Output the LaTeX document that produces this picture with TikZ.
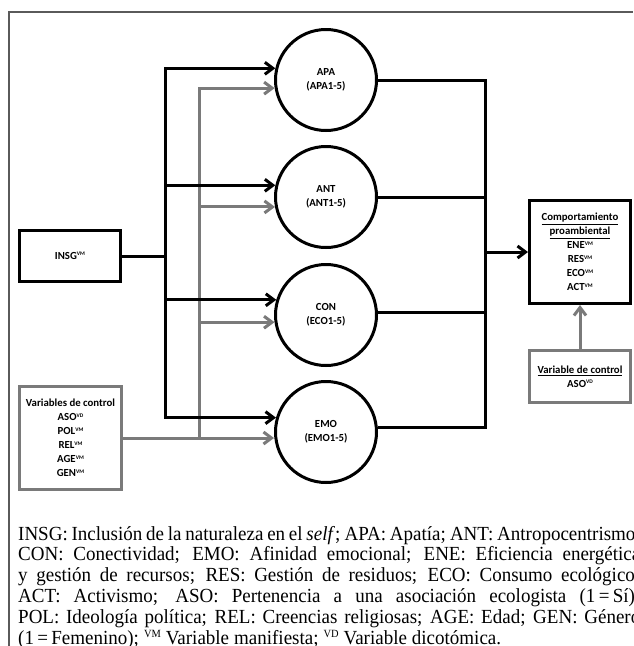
\documentclass[tikz,border=0pt]{standalone}
\usepackage{fontspec}
\setmainfont{Liberation Serif}
\newfontfamily\capfont[FakeStretch=0.95]{Liberation Serif}
\newfontfamily\dfont{Carlito}
\usetikzlibrary{arrows.meta}
\definecolor{gryc}{HTML}{7A7A7A}
\definecolor{framec}{HTML}{5A5A5A}
\newcommand{\vsup}[1]{\raisebox{3.6pt}{\fontsize{5.5}{6}\selectfont #1}}
\newcommand{\csup}[1]{\raisebox{6.5pt}{\fontsize{11}{11}\selectfont #1}}
\newcommand{\capline}[1]{\makebox[622pt][s]{#1}}
\begin{document}
\begin{tikzpicture}[x=1pt,y=-1pt,
  lbl/.style={font=\dfont\bfseries\fontsize{10.8}{14}\selectfont, align=center},
  blk/.style={line width=3pt, draw=black},
  gryl/.style={line width=3pt, draw=gryc},
  tip/.style={-{Straight Barb[length=8pt,width=12pt]}},
  circ/.style={circle, draw, line width=3pt, minimum size=101pt, inner sep=0pt, lbl},
  bx/.style={rectangle, draw, line width=3pt, inner sep=0pt, lbl},
  gbx/.style={rectangle, draw=gryc, line width=3pt, inner sep=0pt, lbl}
]
\useasboundingbox (0,0) rectangle (633,646);
\fill[white] (0,0) rectangle (633,646);
% frame
\draw[line width=1.3pt, draw=framec] (9,646) -- (9,12) -- (633,12);

% nodes
\node[circ] (APA) at (326,80) {APA\\(APA1-5)};
\node[circ] (ANT) at (326,197) {ANT\\(ANT1-5)};
\node[circ] (CON) at (326,315) {CON\\(ECO1-5)};
\node[circ] (EMO) at (326,432) {EMO\\(EMO1-5)};

\node[bx, minimum width=101pt, minimum height=51pt] (INSG) at (70,256) {INSG\vsup{VM}};
\node[gbx, minimum width=102pt, minimum height=103pt] (CTRL) at (70.5,438)
  {Variables de control\\ASO\vsup{VD}\\POL\vsup{VM}\\REL\vsup{VM}\\AGE\vsup{VM}\\GEN\vsup{VM}};
\node[bx, minimum width=101pt, minimum height=103pt] (OUT) at (580,252)
  {\underline{Comportamiento}\\\underline{proambiental}\\ENE\vsup{VM}\\RES\vsup{VM}\\ECO\vsup{VM}\\ACT\vsup{VM}};
\node[gbx, minimum width=101pt, minimum height=52pt] (CTRL2) at (580,376.5)
  {\underline{Variable de control}\\ASO\vsup{VD}};

\coordinate (tb) at (165,0);
\coordinate (tg) at (199,0);
\coordinate (tr) at (485,0);

% gray connectors (drawn first)
\draw[gryl, {Straight Barb[length=8pt,width=12pt]}-] (APA.189) -- (APA.189 -| tg) -- (CTRL.east -| tg);
\draw[gryl, tip] (ANT.191 -| tg) -- (ANT.191);
\draw[gryl, tip] (CON.188 -| tg) -- (CON.188);
\draw[gryl, tip] (CTRL.east) -- (CTRL.east -| EMO.west);
\draw[gryl, tip] (CTRL2.north) -- (OUT.south);

% black connectors
\draw[blk, {Straight Barb[length=8pt,width=12pt]}-{Straight Barb[length=8pt,width=12pt]}]
  (APA.167) -- (APA.167 -| tb) -- (EMO.164 -| tb) -- (EMO.164);
\draw[blk, tip] (ANT.167 -| tb) -- (ANT.167);
\draw[blk, tip] (CON.163 -| tb) -- (CON.163);
\draw[blk] (INSG.east) -- (INSG.east -| tb);

\draw[blk] (APA.east) -- (APA.east -| tr) -- (EMO.5 -| tr) -- (EMO.5);
\draw[blk] (ANT.east) -- (ANT.east -| tr);
\draw[blk] (CON.3) -- (CON.3 -| tr);
\draw[blk, tip] (OUT.west -| tr) -- (OUT.west);

% caption
\node[anchor=base west, inner sep=0pt,
      font=\capfont\fontsize{20}{20.8}\selectfont] (cap) at (18,540)
 {\parbox[t]{622pt}{\lineskiplimit=-20pt\spaceskip=5pt plus 20pt minus 4pt
  \capline{INSG: Inclusión de la naturaleza en el \textit{self}; APA: Apatía; ANT: Antropocentrismo,}\\
  \capline{CON: Conectividad; EMO: Afinidad emocional; ENE: Eficiencia energética}\\
  \capline{y gestión de recursos; RES: Gestión de residuos; ECO: Consumo ecológico;}\\
  \capline{ACT: Activismo; ASO: Pertenencia a una asociación ecologista (1\,=\,Sí);}\\
  \capline{POL: Ideología política; REL: Creencias religiosas; AGE: Edad; GEN: Género}\\
  (1\,=\,Femenino); \csup{VM} Variable manifiesta; \csup{VD} Variable dicotómica.}};
\end{tikzpicture}
\end{document}
